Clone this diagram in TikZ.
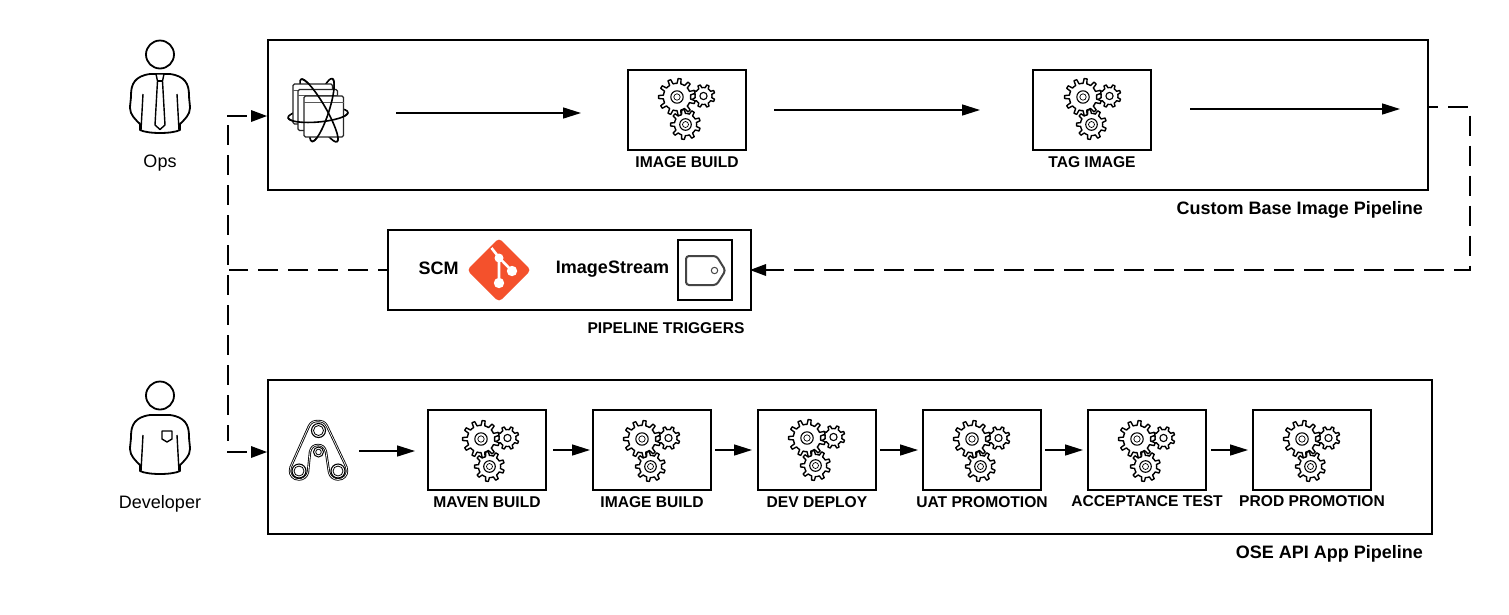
\documentclass[tikz,border=0pt]{standalone}
\usepackage{fontspec}
\setmainfont{Liberation Sans}
\usetikzlibrary{arrows.meta}
\definecolor{gitred}{HTML}{F4512C}
\definecolor{taggray}{HTML}{444444}
\newcommand{\mygear}[4]{%
  \draw[gearline,fill=white] ({#1+#3*0.74},#2)
    \foreach \i in {1,...,#4} {
      -- ({#1+#3*0.74*cos((\i-1+0.26)*360/#4)},{#2+#3*0.74*sin((\i-1+0.26)*360/#4)})
      -- ({#1+#3*cos((\i-1+0.36)*360/#4)},{#2+#3*sin((\i-1+0.36)*360/#4)})
      -- ({#1+#3*cos((\i-1+0.64)*360/#4)},{#2+#3*sin((\i-1+0.64)*360/#4)})
      -- ({#1+#3*0.74*cos((\i-1+0.74)*360/#4)},{#2+#3*0.74*sin((\i-1+0.74)*360/#4)})
      -- ({#1+#3*0.74*cos(\i*360/#4)},{#2+#3*0.74*sin(\i*360/#4)})
    } -- cycle;
}
\newcommand{\myperson}[1]{%
  \begin{scope}[yshift=-#1pt]
    \draw[figline] (160,54.5) circle[radius=14pt];
    \draw[figline,fill=white] (150,74) .. controls (135,76) and (131,84) .. (131,95)
      .. controls (131,100) and (130,104) .. (130,108)
      .. controls (130,115) and (136,120) .. (140,124) -- (140,130)
      .. controls (148,134) and (172,134) .. (180,130) -- (180,124)
      .. controls (184,120) and (190,115) .. (190,108)
      .. controls (190,104) and (189,100) .. (189,95)
      .. controls (189,84) and (185,76) .. (170,74) -- cycle;
    \draw[figline,line width=1.4pt] (143,94) -- (141,130) (177,94) -- (179,130);
  \end{scope}
}
\tikzset{
  gearline/.style={line width=1.4pt,black,line join=round},
  figline/.style={line width=1.8pt,black,line join=round},
  orbit/.style={line width=1.6pt,black},
  bigbox/.style={draw,line width=2pt,inner sep=0pt,minimum width=#1},
  gearbox/.style={draw,line width=2pt,inner sep=0pt,minimum width=118pt,minimum height=80pt},
  lab/.style={font=\fontsize{15.6}{18}\selectfont\bfseries,inner sep=0pt},
  titlelab/.style={font=\fontsize{18}{20}\selectfont\bfseries,inner sep=0pt,anchor=east},
  midlab/.style={font=\fontsize{18}{20}\selectfont\bfseries,inner sep=0pt},
  perslab/.style={font=\fontsize{18}{20}\selectfont,inner sep=0pt},
  flow/.style={line width=1.5pt,-{Triangle[length=18pt,width=11pt]}},
  dash line/.style={line width=2pt,dash pattern=on 20pt off 10pt},
  dash tip/.style={dash line,-{Triangle[length=16pt,width=12pt,line width=0pt]}},
  gears/.pic={
    \mygear{26.5}{-1}{11.5}{8}
    \draw[gearline,line width=1.1pt] (26.5,-1) circle[radius=3.6pt];
    \mygear{8.5}{27.5}{15}{9}
    \draw[gearline,line width=1.1pt] (8.5,27.5) circle[radius=5.8pt];
    \draw[gearline,line width=0.7pt] (8.5,27.5) circle[radius=3pt];
    \mygear{0}{0}{18.5}{11}
    \draw[gearline,line width=1.1pt] (0,0) circle[radius=6.2pt];
    \draw[gearline,line width=0.7pt] (0,0) circle[radius=3.2pt];
  }
}
\begin{document}
\begin{tikzpicture}[x=1pt,y=-1pt]
\useasboundingbox (0,0) rectangle (1509,614);
\fill[white] (0,0) rectangle (1509,614);

% main containers
\node[bigbox=1160pt,minimum height=150pt] (base) at (848,115) {};
\node[bigbox=363pt,minimum height=80pt] (trig) at (569.5,270) {};
\node[bigbox=1164pt,minimum height=154pt] (app) at (850,457) {};

% top boxes
\node[gearbox] (b1) at (687,110) {};
\node[gearbox] (b2) at (1092,110) {};
\pic at (677,97) {gears};
\pic at (1083,97) {gears};
\node[lab] (l1) at (687,162) {IMAGE BUILD};
\node[lab] (l2) at (1092,162) {TAG IMAGE};

% bottom boxes
\node[gearbox] (c1) at (487,450) {};
\node[gearbox] (c2) at (652,450) {};
\node[gearbox] (c3) at (817,450) {};
\node[gearbox] (c4) at (982,450) {};
\node[gearbox] (c5) at (1147,450) {};
\node[gearbox] (c6) at (1312,450) {};
\pic at (481,439) {gears};
\pic at (642,439) {gears};
\pic at (807,438) {gears};
\pic at (972,439) {gears};
\pic at (1137,439) {gears};
\pic at (1302,439) {gears};
\node[lab] (d1) at (487,502) {MAVEN BUILD};
\node[lab] (d2) at (652,502) {IMAGE BUILD};
\node[lab] (d3) at (817,502) {DEV DEPLOY};
\node[lab] (d4) at (982,502) {UAT PROMOTION};
\node[lab] (d5) at (1147,501) {ACCEPTANCE TEST};
\node[lab] (d6) at (1312,501) {PROD PROMOTION};

% titles
\node[titlelab] (t1) at (1423,209.5) {Custom Base Image Pipeline};
\node[titlelab] (t2) at (1423,553.5) {OSE API App Pipeline};
\node[lab] (t3) at (666,328) {PIPELINE TRIGGERS};
\node[midlab] (scm) at (438.5,268) {SCM};
\node[midlab] (ist) at (612.5,269.5) {ImageStream};
\node[perslab] (ops) at (160,163.5) {Ops};
\node[perslab] (dev) at (160,503.5) {Developer};

% people
\myperson{0}
\draw[figline,line width=1.4pt,fill=white] (156,74) -- (164,74) -- (162.5,81) -- (165,125) -- (160,129.5) -- (155,125) -- (157.5,81) -- cycle;
\draw[figline,line width=1.2pt] (157.5,81) -- (162.5,81);
\myperson{341}
\draw[figline,line width=1.4pt] (162,431) -- (172,431) -- (172,439) -- (167,442) -- (162,439) -- cycle;

% image stack icon: back of the orbits, windows, front of the orbits
\draw[orbit,rotate around={5:(318,115)}] (318,115) ellipse[x radius=30pt,y radius=7pt];
\draw[orbit,rotate around={-60:(319,110.5)}] (319,110.5) ellipse[x radius=36pt,y radius=7pt];
\draw[orbit,rotate around={72:(322,110)}] (322,110) ellipse[x radius=33pt,y radius=7pt];
\foreach \x/\y/\h in {293/84/40,298/89.5/41,304/96/41} {
  \draw[line width=1.1pt,fill=white,rounded corners=1.5pt,draw=black!85] (\x,\y) rectangle ++(39.5,\h);
  \draw[line width=1pt,draw=black!65] (\x,\y+6) -- ++(39.5,0);
}
\draw[orbit,rotate around={5:(318,115)}] plot[domain=0:180,samples=40,smooth] ({318+30*cos(\x)},{115+7*sin(\x)});
\draw[orbit,rotate around={-60:(319,110.5)}] plot[domain=180:360,samples=40,smooth] ({319+36*cos(\x)},{110.5+7*sin(\x)});
\draw[orbit,rotate around={72:(322,110)}] plot[domain=0:180,samples=40,smooth] ({322+33*cos(\x)},{110+7*sin(\x)});

% belt icon
\def\beltpath{(299,479.5) .. controls (293,479.5) and (290,475) .. (290,471)
  .. controls (290,468) and (291,466) .. (292,464) -- (309,426)
  .. controls (311,422) and (314,421) .. (318,421)
  .. controls (322,421) and (325,422) .. (327,426) -- (345,464)
  .. controls (346,466) and (347,468) .. (347,471)
  .. controls (347,475) and (344,479.5) .. (338,479.5)
  .. controls (334,479.5) and (330,477) .. (329,472) -- (326,452)
  .. controls (325,447) and (322,445) .. (318,445)
  .. controls (314,445) and (311,447) .. (310,452) -- (308,472)
  .. controls (307,477) and (303,479.5) .. (299,479.5) -- cycle}
\draw[line width=2.4pt] \beltpath;
\draw[line width=0.7pt,white] \beltpath;
\foreach \x/\y in {318.5/430.5,299/471,338/471} {
  \draw[line width=1.1pt] (\x,\y) circle[radius=7pt];
  \draw[line width=0.8pt] (\x,\y) circle[radius=5pt];
}
\draw[line width=1pt] (318.5,452) circle[radius=5pt];
\draw[line width=0.8pt] (318.5,452) circle[radius=2.8pt];

% git logo
\fill[gitred,rounded corners=4pt] (499,238) -- (531,270) -- (499,302) -- (467,270) -- cycle;
\draw[white,line width=2.6pt] (491.5,248) -- (499,257.5) -- (499,283) (499,257.5) -- (512,271);
\fill[white] (499,258) circle[radius=4.5pt] (499,283) circle[radius=5.2pt] (512,271) circle[radius=5.2pt];

% tag icon
\node[draw,line width=2pt,inner sep=0pt,minimum width=54pt,minimum height=60pt] (tagbox) at (705,270) {};
\draw[taggray,line width=2pt,rounded corners=3pt] (686,256) -- (716.5,256) -- (725.5,270.5) -- (716.5,285) -- (686,285) -- cycle;
\draw[taggray,line width=1pt] (714.5,270.5) circle[radius=3.2pt];

% arrows, top row
\coordinate (a1s) at (396,113);
\coordinate (a1e) at (581,113);
\coordinate (a2e) at (980,110);
\coordinate (a3s) at (1190,109);
\coordinate (a3e) at (1400,109);
\draw[flow] (a1s) -- (a1e);
\draw[flow,shorten <=27pt] (b1.east) -- (a2e);
\draw[flow] (a3s) -- (a3e);

% arrows, bottom row
\coordinate (a4s) at (359,451);
\coordinate (a4e) at (415,451);
\draw[flow] (a4s) -- (a4e);
\draw[flow,shorten <=6pt,shorten >=2pt] (c1.east) -- (c2.west);
\draw[flow,shorten <=3pt,shorten >=5pt] (c2.east) -- (c3.west);
\draw[flow,shorten <=3pt,shorten >=4pt] (c3.east) -- (c4.west);
\draw[flow,shorten <=3pt,shorten >=4pt] (c4.east) -- (c5.west);
\draw[flow,shorten <=4pt,shorten >=4pt] (c5.east) -- (c6.west);

% dashed connectors
\coordinate (bx) at (1428,107);
\coordinate (rc1) at (1469.5,107);
\coordinate (rc2) at (1469.5,270);
\coordinate (lc) at (229,270);
\coordinate (vt) at (228,125);
\coordinate (vb) at (228,441);
\coordinate (h1) at (227,116);
\coordinate (h2) at (227,452);
\draw[dash tip,dash phase=10pt,shorten >=-2pt] (bx) -- (rc1) -- (rc2) -- (trig.east);
\draw[dash line,dash phase=11pt] (trig.west) -- (lc);
\draw[dash line] (vt) -- (vb);
\draw[dash tip] (h1) -- (h1 -| base.west);
\draw[dash tip] (h2) -- (h2 -| app.west);
\end{tikzpicture}
\end{document}
